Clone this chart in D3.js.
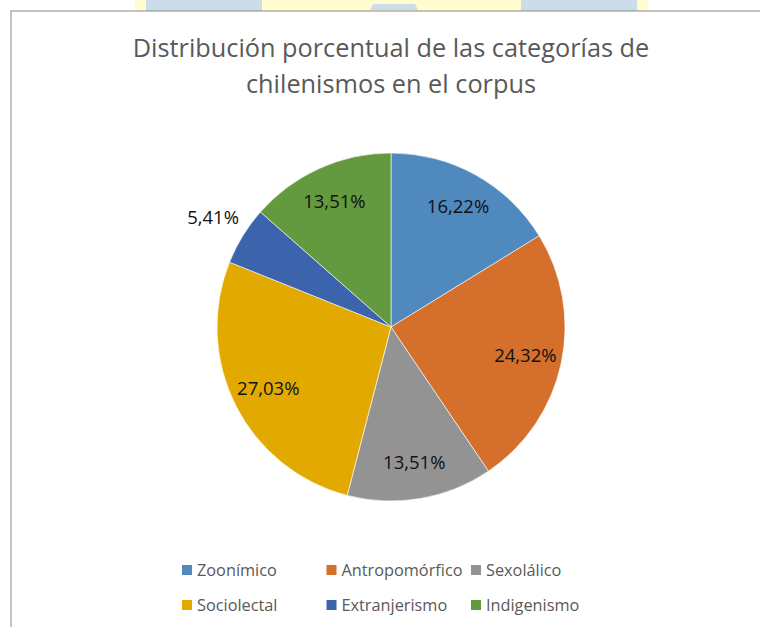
<!DOCTYPE html>
<html>
<head>
<meta charset="utf-8">
<script src="https://cdn.jsdelivr.net/npm/d3@7"></script>
<style>
  html, body { margin: 0; padding: 0; background: #fff; }
  svg { display: block; font-family: "Open Sans", "Noto Sans", sans-serif; }
</style>
</head>
<body>
<div id="chart"></div>
<script>
// Data
const categories = ["Zoonímico", "Antropomórfico", "Sexolálico", "Sociolectal", "Extranjerismo", "Indigenismo"];
const values = [16.22, 24.32, 13.51, 27.03, 5.41, 13.51];
const colors = ["#4f89bd", "#d46f2c", "#939393", "#e2aa00", "#3c64ad", "#649a3f"];
const titleLines = ["Distribución porcentual de las categorías de", "chilenismos en el corpus"];

const fullW = 760, fullH = 627;
const svg = d3.select("#chart").append("svg")
  .attr("width", fullW).attr("height", fullH);

// Page strip above the chart frame (document background)
svg.append("rect").attr("x", 135).attr("y", 0).attr("width", 513).attr("height", 11).attr("fill", "#fffdd0");
svg.append("rect").attr("x", 146).attr("y", 0).attr("width", 116).attr("height", 11).attr("fill", "#ccdcea");
svg.append("rect").attr("x", 521).attr("y", 0).attr("width", 116).attr("height", 11).attr("fill", "#ccdcea");
svg.append("path").attr("d", "M370,10 L373,4 L415,4 L418,10 Z").attr("fill", "#ccdcea");

// Chart frame
svg.append("rect").attr("x", 11).attr("y", 11).attr("width", fullW).attr("height", fullH)
  .attr("fill", "#fff").attr("stroke", "#888").attr("stroke-width", 1);

// Title
svg.append("g").selectAll("text")
  .data(titleLines)
  .join("text")
  .attr("x", 391)
  .attr("y", (d, i) => 57 + i * 36)
  .attr("text-anchor", "middle")
  .attr("fill", "#595959")
  .attr("font-size", 25.3)
  .text(d => d);

// Pie
const cx = 391, cy = 327, R = 174;
const pie = d3.pie().sort(null).value(d => d);
const arcs = pie(values);
const arc = d3.arc().innerRadius(0).outerRadius(R);

const g = svg.append("g").attr("transform", `translate(${cx},${cy})`);

g.selectAll("path")
  .data(arcs)
  .join("path")
  .attr("d", arc)
  .attr("fill", (d, i) => colors[i])
  .attr("stroke", "#fff")
  .attr("stroke-width", 0.6);

// Labels: inside for larger slices, outside for small ones
const fmt = v => v.toFixed(2).replace(".", ",") + "%";
const inner = d3.arc().innerRadius(R * 0.79).outerRadius(R * 0.79);
const outer = d3.arc().innerRadius(R + 35).outerRadius(R + 35);

g.selectAll("text.lbl")
  .data(arcs)
  .join("text")
  .attr("class", "lbl")
  .attr("transform", d => `translate(${(d.data < 10 ? outer : inner).centroid(d)})`)
  .attr("text-anchor", "middle")
  .attr("dy", "0.35em")
  .attr("font-size", 18.5)
  .attr("fill", "#111")
  .text(d => fmt(d.data));

// Legend
const legend = svg.append("g");
const item = legend.selectAll("g")
  .data(categories)
  .join("g")
  .attr("transform", (d, i) => `translate(${182 + (i % 3) * 144.5},${570 + Math.floor(i / 3) * 35})`);

item.append("rect")
  .attr("x", 0).attr("y", -5)
  .attr("width", 10).attr("height", 10)
  .attr("fill", (d, i) => colors[i]);

item.append("text")
  .attr("x", 15)
  .attr("dy", "0.35em")
  .attr("font-size", 16.3)
  .attr("fill", "#595959")
  .text(d => d);
</script>
</body>
</html>
